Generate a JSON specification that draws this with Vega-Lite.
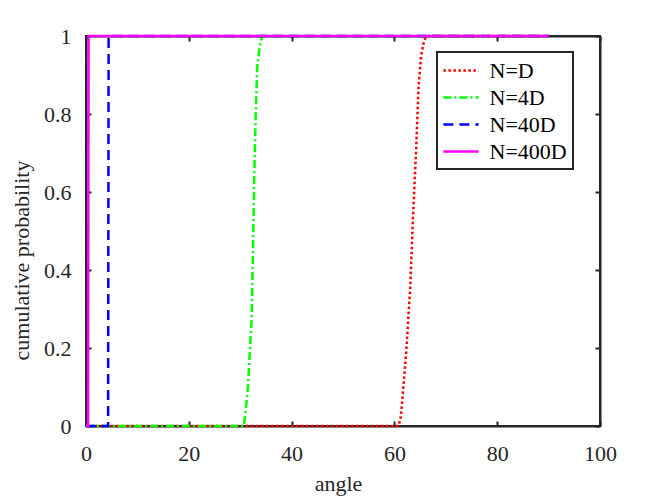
{
  "$schema": "https://vega.github.io/schema/vega-lite/v6.json",
  "autosize": "none",
  "padding": {"left": 86, "top": 36, "right": 64, "bottom": 72},
  "width": 514,
  "height": 390,
  "background": "white",
  "config": {
    "font": "Liberation Serif",
    "view": {"stroke": "#262626", "strokeWidth": 2},
    "axis": {
      "grid": false,
      "labelFlush": false,
      "domainColor": "#262626",
      "domainWidth": 2,
      "tickColor": "#262626",
      "tickWidth": 2,
      "tickSize": -5,
      "labelColor": "#262626",
      "labelFont": "Liberation Serif",
      "labelFontSize": 22,
      "titleColor": "#262626",
      "titleFont": "Liberation Serif",
      "titleFontSize": 22,
      "titleFontWeight": "normal"
    }
  },
  "data": {
    "values": [
      {"angle": 0, "p": 0, "series": "N=D"},
      {"angle": 60.8, "p": 0, "series": "N=D"},
      {"angle": 61.2, "p": 0.02, "series": "N=D"},
      {"angle": 61.5, "p": 0.06, "series": "N=D"},
      {"angle": 62.3, "p": 0.19, "series": "N=D"},
      {"angle": 63.1, "p": 0.36, "series": "N=D"},
      {"angle": 63.6, "p": 0.53, "series": "N=D"},
      {"angle": 64.2, "p": 0.7, "series": "N=D"},
      {"angle": 64.7, "p": 0.87, "series": "N=D"},
      {"angle": 65.2, "p": 0.95, "series": "N=D"},
      {"angle": 65.8, "p": 0.99, "series": "N=D"},
      {"angle": 66.4, "p": 1, "series": "N=D"},
      {"angle": 90, "p": 1, "series": "N=D"},
      {"angle": 0, "p": 0, "series": "N=4D"},
      {"angle": 30.7, "p": 0, "series": "N=4D"},
      {"angle": 31.0, "p": 0.03, "series": "N=4D"},
      {"angle": 31.5, "p": 0.1, "series": "N=4D"},
      {"angle": 32.2, "p": 0.27, "series": "N=4D"},
      {"angle": 32.5, "p": 0.45, "series": "N=4D"},
      {"angle": 32.7, "p": 0.62, "series": "N=4D"},
      {"angle": 33.0, "p": 0.79, "series": "N=4D"},
      {"angle": 33.3, "p": 0.92, "series": "N=4D"},
      {"angle": 33.8, "p": 0.975, "series": "N=4D"},
      {"angle": 34.3, "p": 1, "series": "N=4D"},
      {"angle": 90, "p": 1, "series": "N=4D"},
      {"angle": 0, "p": 0, "series": "N=40D"},
      {"angle": 4.3, "p": 0, "series": "N=40D"},
      {"angle": 4.4, "p": 1, "series": "N=40D"},
      {"angle": 90, "p": 1, "series": "N=40D"},
      {"angle": 0, "p": 0, "series": "N=400D"},
      {"angle": 0.4, "p": 0, "series": "N=400D"},
      {"angle": 0.5, "p": 1, "series": "N=400D"},
      {"angle": 90, "p": 1, "series": "N=400D"}
    ]
  },
  "layer": [
    {
      "mark": {"type": "line", "strokeWidth": 2.5},
      "encoding": {
        "x": {
          "field": "angle",
          "type": "quantitative",
          "scale": {"domain": [0, 100], "nice": false},
          "axis": {"values": [0, 20, 40, 60, 80, 100], "title": "angle", "labelPadding": 22, "titleBaseline": "alphabetic", "titleX": 252, "titleY": 64}
        },
        "y": {
          "field": "p",
          "type": "quantitative",
          "scale": {"domain": [0, 1], "nice": false},
          "axis": {"values": [0, 0.2, 0.4, 0.6, 0.8, 1], "format": "~g", "title": "cumulative probability", "labelPadding": 20, "titleBaseline": "alphabetic", "titleX": -58, "titleY": 224}
        },
        "color": {
          "field": "series",
          "type": "nominal",
          "scale": {"domain": ["N=D", "N=4D", "N=40D", "N=400D"], "range": ["#ff0000", "#00ff00", "#0000ff", "#ff00ff"]},
          "legend": {
            "title": null,
            "orient": "none",
            "legendX": 351,
            "legendY": 16,
            "fillColor": "white",
            "strokeColor": "#262626",
            "padding": 6,
            "symbolType": "M-1.6,0L1.6,0",
            "symbolSize": 484,
            "symbolOffset": 5.5,
            "symbolStrokeWidth": 2.5,
            "labelFont": "Liberation Serif",
            "labelFontSize": 22,
            "labelColor": "#000000",
            "labelOffset": 16,
            "rowPadding": 3,
            "labelExpr": "datum.label + '\u2002\u2002'",
            "encode": {"legend": {"update": {"strokeWidth": {"value": 2}}}}
          }
        },
        "strokeDash": {
          "field": "series",
          "type": "nominal",
          "scale": {"domain": ["N=D", "N=4D", "N=40D", "N=400D"], "range": [[2.5, 2.5], [8, 3, 2, 3], [10, 6], [1, 0]]}
        }
      }
    },
    {
      "mark": {"type": "line", "opacity": 0},
      "encoding": {
        "x": {
          "field": "angle",
          "type": "quantitative",
          "scale": {"domain": [0, 100], "nice": false},
          "axis": {"orient": "top", "values": [0, 20, 40, 60, 80, 100], "labels": false, "title": null}
        },
        "y": {
          "field": "p",
          "type": "quantitative",
          "scale": {"domain": [0, 1], "nice": false},
          "axis": {"orient": "right", "values": [0, 0.2, 0.4, 0.6, 0.8, 1], "labels": false, "title": null}
        }
      }
    }
  ],
  "resolve": {"scale": {"x": "independent", "y": "independent"}}
}
